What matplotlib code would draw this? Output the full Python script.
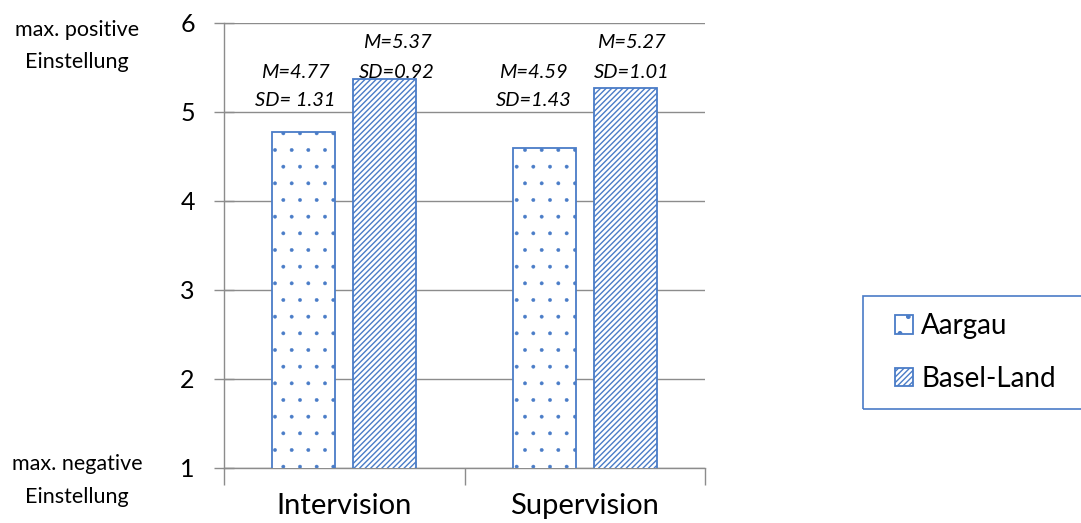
import matplotlib.pyplot as plt
from matplotlib.patches import Rectangle
import numpy as np

plt.rcParams['font.family'] = ['Lato', 'DejaVu Sans']

categories = ['Intervision', 'Supervision']
aargau = [4.77, 4.59]
basel = [5.37, 5.27]
aargau_m = ['M=4.77', 'M=4.59']
aargau_sd = ['SD= 1.31', 'SD=1.43']
basel_m = ['M=5.37', 'M=5.27']
basel_sd = ['SD=0.92', 'SD=1.01']

blue = '#4a7cc7'
gray = '#8c8c8c'

fig = plt.figure(figsize=(10.81, 5.23), dpi=100)
ax = fig.add_axes([0.2072, 0.1052, 0.445, 0.8509])

x = np.arange(len(categories))
w = 0.262
off = 0.168
plt.rcParams['hatch.linewidth'] = 0.3
ax.bar(x - off, aargau, w, color='white', edgecolor=blue,
       hatch='.', linewidth=1.3, label='Aargau', zorder=3)
plt.rcParams['hatch.linewidth'] = 1.0
ax.bar(x + off, basel, w, color='white', edgecolor=blue,
       hatch='//////', linewidth=1.3, label='Basel-Land', zorder=3)

# M / SD text boxes (hand placed in the original)
a_shift = [-0.035, -0.045]
b_shift = [0.052, 0.027]
for i in range(len(categories)):
    xa = x[i] - off + a_shift[i]
    xb = x[i] + off + b_shift[i]
    ax.text(xa, 5.382, aargau_m[i], ha='center', va='baseline',
            style='italic', fontsize=14.5, zorder=4)
    ax.text(xa, 5.067, aargau_sd[i], ha='center', va='baseline',
            style='italic', fontsize=14.5, zorder=4)
    ax.text(xb, 5.719, basel_m[i], ha='center', va='baseline',
            style='italic', fontsize=14.5, zorder=4)
    ax.text(xb, 5.382, basel_sd[i], ha='center', va='baseline',
            style='italic', fontsize=14.5, zorder=4)

ax.set_ylim(1, 6)
ax.set_xlim(-0.5, 1.5)
ax.set_yticks([1, 2, 3, 4, 5, 6])
ax.set_xticks(x)
ax.set_xticklabels(categories, fontsize=21)
ax.set_xticks([-0.5, 0.5, 1.5], minor=True)
ax.tick_params(axis='x', which='major', length=0, pad=18)
ax.tick_params(axis='x', which='minor', length=12, color=gray, width=1)
ax.tick_params(axis='y', labelsize=18, length=14, direction='inout',
               color=gray, width=1, pad=14)

ax.yaxis.grid(True, color=gray, linewidth=1, zorder=0)
ax.set_axisbelow(True)
for s in ['top', 'right']:
    ax.spines[s].set_visible(False)
for s in ['left', 'bottom']:
    ax.spines[s].set_color(gray)
    ax.spines[s].set_linewidth(1)

fig.text(0.0715, 1 - 36 / 523, 'max. positive', ha='center', va='baseline', fontsize=15.5)
fig.text(0.0715, 1 - 68 / 523, 'Einstellung', ha='center', va='baseline', fontsize=15.5)
fig.text(0.0715, 1 - 470 / 523, 'max. negative', ha='center', va='baseline', fontsize=15.5)
fig.text(0.0715, 1 - 503 / 523, 'Einstellung', ha='center', va='baseline', fontsize=15.5)

# legend box runs off the right edge in the original
fig.patches.append(Rectangle((863 / 1081, 1 - 409 / 523), 0.25, 113 / 523,
                             transform=fig.transFigure, facecolor='none',
                             edgecolor=blue, linewidth=1.2))
leg = fig.legend(loc='center left', bbox_to_anchor=(895 / 1081, 1 - 352.5 / 523),
                 fontsize=20, frameon=False, handlelength=0.65, handleheight=0.65,
                 handletextpad=0.3, labelspacing=0.95, borderpad=0,
                 borderaxespad=0)

fig.savefig('out.png', dpi=100)
